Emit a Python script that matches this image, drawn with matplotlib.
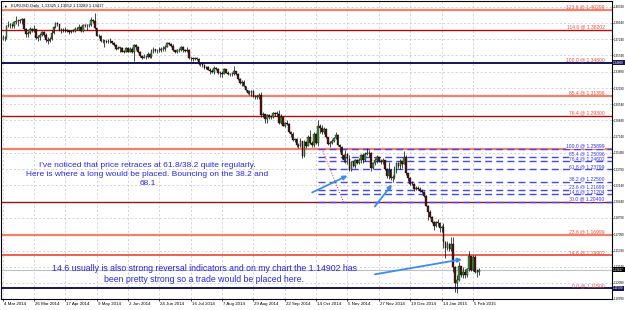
import numpy as np
import matplotlib
matplotlib.use('Agg')
import matplotlib.pyplot as plt
import matplotlib.transforms as mtransforms

plt.rcParams['font.family'] = ['Liberation Sans', 'DejaVu Sans']

# EURUSD daily, 4 Mar 2014 .. 10 Feb 2015, prices in 1/10000
first_open = 13735
closes = [
    13740, 13735, 13865, 13875, 13875, 13860, 13905, 13910, 13910, 13925, 13930, 13830, 13780, 13790, 13830, 13820, 13830, 13740, 13750, 13770,
    13795, 13765, 13715, 13705, 13730, 13790, 13850, 13890, 13885, 13815, 13815, 13815, 13815, 13810, 13795, 13805, 13810, 13825, 13830, 13855, 13810, 13870,
    13870, 13870, 13875, 13925, 13910, 13835, 13760, 13755, 13705, 13710, 13710, 13695, 13710, 13705, 13685, 13665, 13625, 13635, 13635, 13595, 13595, 13635,
    13595, 13625, 13595, 13660, 13640, 13590, 13550, 13530, 13545, 13540, 13570, 13545, 13600, 13620, 13605, 13600, 13610, 13620, 13620, 13645, 13690,
    13675, 13655, 13610, 13595, 13610, 13615, 13640, 13610, 13605, 13615, 13530, 13525, 13515, 13525, 13520, 13465, 13465, 13460, 13430, 13440, 13410, 13395, 13390,
    13425, 13420, 13375, 13375, 13365, 13415, 13380, 13365, 13360, 13365, 13400, 13365, 13315, 13270, 13280, 13240, 13195, 13165, 13175, 13185, 13130,
    13130, 13130, 13150, 12945, 12950, 12895, 12945, 12915, 12925, 12960, 12955, 12955, 12860, 12920, 12830, 12855, 12850, 12765, 12745, 12685, 12690, 12630,
    12620, 12670, 12515, 12665, 12625, 12710, 12650, 12630, 12740, 12655, 12830, 12810, 12760, 12800, 12710, 12645, 12650, 12670, 12700, 12735, 12630, 12610, 12525,
    12480, 12540, 12490, 12375, 12450, 12410, 12475, 12440, 12475, 12525, 12480, 12540, 12545, 12545, 12390, 12440, 12475, 12505, 12470, 12450,
    12475, 12380, 12310, 12375, 12285, 12305, 12380, 12445, 12410, 12465, 12435, 12505, 12340, 12285, 12225, 12230, 12175, 12190, 12180, 12155, 12150, 12100,
    12000, 11935, 11890, 11840, 11790, 11840, 11825, 11775, 11780, 11630, 11565, 11605, 11560, 11610, 11365, 11205, 11240, 11380, 11285, 11320, 11290,
    11345, 11480, 11340, 11475, 11315, 11320, 11342,
]
highs = [
    13770, 13755, 13875, 13915, 13890, 13895, 13915, 13967, 13930, 13935, 13945, 13940, 13835, 13810, 13850, 13845, 13875, 13830, 13765, 13785,
    13810, 13805, 13785, 13745, 13745, 13815, 13865, 13905, 13905, 13880, 13835, 13845, 13850, 13825, 13820, 13820, 13830, 13850, 13850, 13880, 13860, 13885,
    13885, 13885, 13885, 13950, 13935, 13993, 13845, 13780, 13765, 13725, 13720, 13715, 13725, 13735, 13710, 13700, 13670, 13650, 13645, 13640, 13615, 13645,
    13640, 13640, 13640, 13670, 13675, 13650, 13600, 13560, 13575, 13560, 13595, 13580, 13620, 13645, 13625, 13620, 13640, 13640, 13650, 13660, 13700,
    13700, 13690, 13670, 13615, 13625, 13635, 13655, 13650, 13625, 13640, 13625, 13545, 13545, 13545, 13540, 13530, 13480, 13490, 13470, 13450, 13445, 13425, 13415,
    13445, 13435, 13430, 13395, 13395, 13430, 13420, 13395, 13380, 13385, 13445, 13400, 13370, 13320, 13300, 13300, 13230, 13200, 13195, 13200, 13200,
    13150, 13145, 13165, 13175, 12970, 12955, 12955, 12950, 12945, 12970, 12970, 12985, 12990, 12955, 12935, 12865, 12885, 12860, 12780, 12760, 12705, 12705,
    12655, 12700, 12670, 12680, 12675, 12730, 12790, 12675, 12760, 12755, 12887, 12850, 12835, 12815, 12810, 12715, 12675, 12690, 12715, 12760, 12745, 12645, 12620,
    12535, 12575, 12550, 12530, 12465, 12465, 12490, 12485, 12495, 12535, 12545, 12560, 12600, 12575, 12560, 12455, 12500, 12530, 12505, 12485,
    12500, 12480, 12390, 12455, 12385, 12320, 12410, 12455, 12455, 12490, 12470, 12570, 12530, 12345, 12300, 12260, 12240, 12205, 12205, 12200, 12175, 12160,
    12110, 12010, 11960, 11900, 11850, 11845, 11865, 11840, 11800, 11820, 11635, 11640, 11615, 11680, 11680, 11375, 11285, 11425, 11385, 11365, 11350,
    11360, 11535, 11480, 11495, 11490, 11345, 11355,
]
lows = [
    13715, 13710, 13725, 13850, 13840, 13835, 13835, 13880, 13860, 13890, 13880, 13815, 13750, 13750, 13775, 13800, 13800, 13730, 13705, 13720,
    13760, 13750, 13700, 13675, 13695, 13720, 13780, 13845, 13860, 13805, 13790, 13800, 13800, 13800, 13780, 13785, 13795, 13800, 13815, 13820, 13800, 13795,
    13850, 13820, 13855, 13865, 13895, 13830, 13755, 13735, 13695, 13685, 13645, 13680, 13680, 13690, 13670, 13655, 13615, 13620, 13595, 13590, 13585, 13595,
    13590, 13590, 13585, 13503, 13610, 13585, 13545, 13520, 13525, 13520, 13530, 13525, 13535, 13585, 13590, 13580, 13590, 13590, 13600, 13605, 13640,
    13660, 13640, 13600, 13585, 13585, 13590, 13600, 13590, 13590, 13595, 13515, 13500, 13500, 13505, 13505, 13455, 13450, 13440, 13420, 13415, 13405, 13365, 13375,
    13365, 13405, 13365, 13335, 13335, 13360, 13375, 13355, 13345, 13345, 13355, 13350, 13305, 13260, 13245, 13235, 13185, 13160, 13150, 13140, 13125,
    13110, 13110, 13110, 12920, 12915, 12860, 12860, 12895, 12900, 12905, 12935, 12930, 12850, 12850, 12825, 12815, 12835, 12755, 12710, 12670, 12660, 12615,
    12595, 12605, 12500, 12505, 12600, 12620, 12640, 12615, 12615, 12645, 12620, 12755, 12745, 12740, 12700, 12635, 12615, 12640, 12665, 12695, 12620, 12555, 12490,
    12455, 12445, 12435, 12365, 12358, 12400, 12395, 12430, 12430, 12440, 12445, 12465, 12525, 12505, 12360, 12380, 12420, 12440, 12455, 12435,
    12430, 12370, 12290, 12280, 12270, 12245, 12275, 12345, 12390, 12385, 12395, 12430, 12320, 12260, 12215, 12215, 12160, 12170, 12170, 12145, 12135, 12095,
    12000, 11860, 11875, 11825, 11755, 11780, 11790, 11730, 11730, 11570, 11460, 11550, 11535, 11530, 11315, 11115, 11098, 11220, 11265, 11260, 11260,
    11270, 11330, 11330, 11330, 11305, 11270, 11285,
]

date_idx = [0, 16, 32, 48, 64, 80, 96, 112, 128, 144, 160, 176, 192, 208, 224, 240]
date_labels = ['4 Mar 2014', '26 Mar 2014', '17 Apr 2014', '9 May 2014', '2 Jun 2014', '24 Jun 2014',
               '16 Jul 2014', '7 Aug 2014', '29 Aug 2014', '22 Sep 2014', '14 Oct 2014', '5 Nov 2014',
               '27 Nov 2014', '19 Dec 2014', '14 Jan 2015', '5 Feb 2015']
price_ticks = [1.10390, 1.12090, 1.13740, 1.15390, 1.17090, 1.18790, 1.20440, 1.22140, 1.23790, 1.25490,
               1.27140, 1.28840, 1.30540, 1.32190, 1.33890, 1.35590, 1.37240, 1.38940, 1.40590]

# big fibo 1.11500 -> 1.34800
fib1_levels = ['123.6', '114.6', '100.0', '85.4', '76.4', '61.8', '38.2', '23.6', '14.6', '0.0']
fib1_prices = [1.40299, 1.38202, 1.34800, 1.31398, 1.29300, 1.25899, 1.20400, 1.16999, 1.14902, 1.11500]
fib1_colors = ['#f4806c', '#b80c0c', '#14145a', '#f4806c', '#b80c0c', '#f4806c', '#9a1020', '#f4806c', '#f06050', '#14145a']
fib1_widths = [1.6, 1.0, 1.4, 1.6, 1.0, 1.6, 1.0, 1.6, 1.4, 1.4]

# small fibo 1.20400 -> 1.25899
fib2_levels = ['100.0', '85.4', '76.4', '61.8', '38.2', '23.6', '14.6', '0.0']
fib2_prices = [1.25899, 1.25096, 1.24602, 1.23799, 1.22500, 1.21699, 1.21204, 1.20400]
fib2_start = 161
fib2_anchor_idx = [163, 174]
fib2_anchor_price = [1.25899, 1.20400]

last_price = 1.13417

fig = plt.figure(figsize=(6.25, 3.1), dpi=100)
ax = fig.add_axes([1 / 625, 11 / 310, 611 / 625, 298 / 310])
ax.set_xlim(-0.8, 311)
ax.set_ylim(1.10469, 1.41191)

# grid and scales
ax.set_xticks(date_idx)
ax.set_xticklabels(date_labels, fontsize=3.2, ha='left')
ax.set_yticks(price_ticks)
ax.set_yticklabels([f'{p:.5f}' for p in price_ticks], fontsize=2.2)
ax.yaxis.tick_right()
ax.tick_params(axis='x', length=1.5, width=0.5, pad=0.8)
ax.tick_params(axis='y', length=1.0, width=0.5, pad=0.4)
offset = mtransforms.ScaledTranslation(1 / 100, 0, fig.dpi_scale_trans)
for lab in ax.get_xticklabels():
    lab.set_transform(lab.get_transform() + offset)
ax.grid(color='#c4c4c4', linestyle=(0, (3, 3)), linewidth=0.5)
ax.set_axisbelow(True)
for sp in ax.spines.values():
    sp.set_linewidth(0.8)
    sp.set_color('black')

# fibo lines
for lvl, p, c, w in zip(fib1_levels, fib1_prices, fib1_colors, fib1_widths):
    ax.axhline(p, color=c, lw=w, zorder=2)
for lvl, p in zip(fib2_levels, fib2_prices):
    ax.hlines(p, fib2_start, 311, color='#4646f0', lw=1.0, linestyle=(0, (5, 3)), zorder=2.5)
ax.plot(fib2_anchor_idx, fib2_anchor_price, color='#e02020', lw=0.7, linestyle=':', zorder=2.5)

tr = mtransforms.blended_transform_factory(ax.transAxes, ax.transData)
for lvl, p in zip(fib1_levels, fib1_prices):
    ax.text(0.988, p + 0.0004, f'{lvl} @ {p:.5f}', transform=tr, ha='right', va='bottom',
            fontsize=3.6, color='#e8503c', zorder=5)
for lvl, p in zip(fib2_levels, fib2_prices):
    ax.text(0.988, p + 0.0004, f'{lvl} @ {p:.5f}', transform=tr, ha='right', va='bottom',
            fontsize=3.6, color='#3a3af0', zorder=5,
            bbox=dict(facecolor='white', edgecolor='none', pad=0.2, alpha=0.85))

# bid line
ax.axhline(last_price, color='#c0c0c0', lw=0.8, zorder=2)

# candles
c = np.array(closes) / 1e4
o = np.array([first_open] + closes[:-1]) / 1e4
h = np.maximum(np.array(highs) / 1e4, np.maximum(o, c))
l = np.minimum(np.array(lows) / 1e4, np.minimum(o, c))
x = np.arange(len(c))
up = c >= o
ax.vlines(x, l, h, color='black', lw=0.5, zorder=3)
ax.bar(x, np.maximum(np.abs(c - o), 0.0004), bottom=np.minimum(o, c), width=0.85,
       color=np.where(up, '#3c9a3c', '#5a1414'), edgecolor='black', linewidth=0.25, zorder=4)

# price boxes on the right scale
for p, fc in [(1.34800, '#14145a'), (last_price, 'black'), (1.11500, '#14145a')]:
    ax.text(1.002, p, f'{p:.5f}', transform=tr, ha='left', va='center', fontsize=2.2,
            color='white', clip_on=False, zorder=6,
            bbox=dict(facecolor=fc, edgecolor='none', pad=0.4))

# header
ax.text(0.004, 0.988, '\u25bc', transform=ax.transAxes, fontsize=2.6, va='top', ha='left')
ax.text(0.016, 0.99, 'EURUSD,Daily  1.13325 1.13552 1.13289 1.13417', transform=ax.transAxes,
        fontsize=3.0, va='top', ha='left')

# comments
ax.text(74, 1.2325, "I've noticed that price retraces at 61.8/38.2 quite regularly.\n"
        "Here is where a long would be placed. Bouncing on the 38.2 and\n68.1",
        ha='center', va='center', fontsize=6.05, color='#2828e6', linespacing=1.35, zorder=5)
ax.text(103, 1.1294, "14.6 usually is also strong reversal indicators and on my chart the 1.14902 has\n"
        "been pretty strong so a trade would be placed here.",
        ha='center', va='center', fontsize=6.3, color='#2828e6', linespacing=1.3, zorder=5)

arrow = dict(arrowstyle='-|>', color='#3a8cf0', lw=1.3, mutation_scale=6, shrinkA=0, shrinkB=0)
ax.annotate('', xy=(176, 1.2314), xytext=(158, 1.2140), arrowprops=arrow, zorder=6)
ax.annotate('', xy=(198.7, 1.2222), xytext=(190, 1.1995), arrowprops=arrow, zorder=6)
ax.annotate('', xy=(234.4, 1.1449), xytext=(190, 1.1294), arrowprops=arrow, zorder=6)

fig.savefig('out.png', dpi=100)
